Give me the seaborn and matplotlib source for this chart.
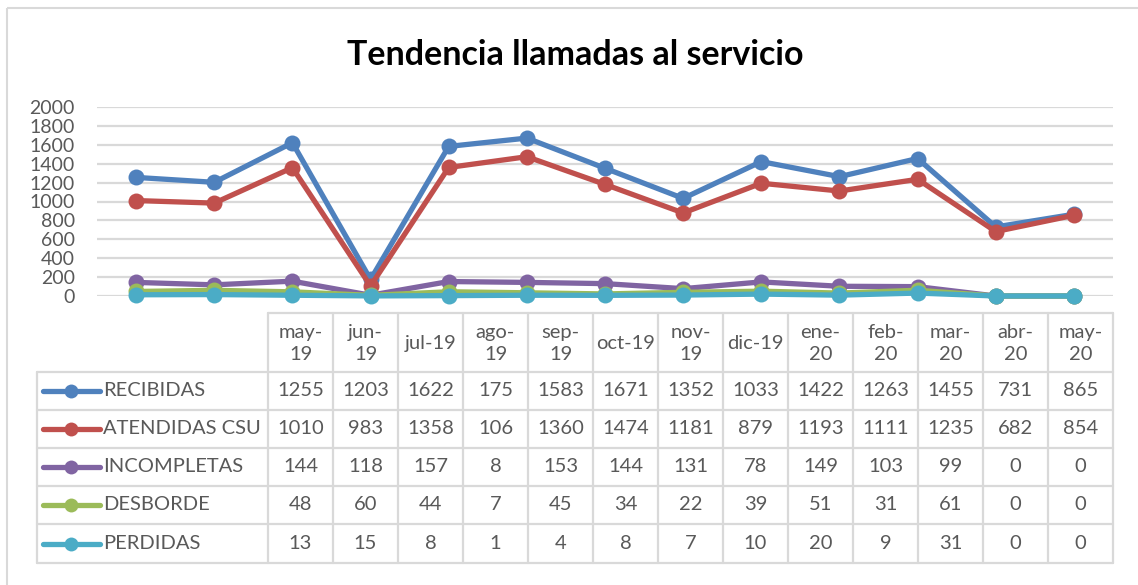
import pandas as pd
import matplotlib.pyplot as plt
import seaborn as sns
from matplotlib.lines import Line2D
from matplotlib.patches import Rectangle

# data
months = ['may-19', 'jun-19', 'jul-19', 'ago-19', 'sep-19', 'oct-19', 'nov-19',
          'dic-19', 'ene-20', 'feb-20', 'mar-20', 'abr-20', 'may-20']
header_labels = ['may-\n19', 'jun-\n19', 'jul-19', 'ago-\n19', 'sep-\n19', 'oct-19',
                 'nov-\n19', 'dic-19', 'ene-\n20', 'feb-\n20', 'mar-\n20', 'abr-\n20', 'may-\n20']
series_names = ['RECIBIDAS', 'ATENDIDAS CSU', 'INCOMPLETAS', 'DESBORDE', 'PERDIDAS']
recibidas = [1255, 1203, 1622, 175, 1583, 1671, 1352, 1033, 1422, 1263, 1455, 731, 865]
atendidas = [1010, 983, 1358, 106, 1360, 1474, 1181, 879, 1193, 1111, 1235, 682, 854]
incompletas = [144, 118, 157, 8, 153, 144, 131, 78, 149, 103, 99, 0, 0]
desborde = [48, 60, 44, 7, 45, 34, 22, 39, 51, 31, 61, 0, 0]
perdidas = [13, 15, 8, 1, 4, 8, 7, 10, 20, 9, 31, 0, 0]
colors = ['#4F81BD', '#C0504D', '#8064A2', '#9BBB59', '#4BACC6']

all_values = [recibidas, atendidas, incompletas, desborde, perdidas]

sns.set_theme(style='white')
plt.rcParams['font.family'] = ['Lato', 'DejaVu Sans']

# long format for seaborn
rows = []
for name, vals in zip(series_names, all_values):
    for i, v in enumerate(vals):
        rows.append({'pos': i, 'mes': months[i], 'serie': name, 'valor': v})
df = pd.DataFrame(rows)

W, H = 1138, 585
fig = plt.figure(figsize=(W / 100, H / 100), dpi=100)
fig.patch.set_facecolor('white')

# plot area in pixel terms
left, right, top, bottom = 97, 1113, 107, 296
ax = fig.add_axes([left / W, 1 - bottom / H, (right - left) / W, (bottom - top) / H])

sns.lineplot(data=df, x='pos', y='valor', hue='serie', hue_order=series_names,
             palette=colors, marker='o', markersize=11.5, markeredgewidth=0,
             linewidth=3.8, sort=False, legend=False, clip_on=False, ax=ax)

ax.set_xlim(-0.5, len(months) - 0.5)
ax.set_ylim(0, 2000)
ax.set_yticks(range(0, 2001, 200))
ax.set_xticks([])
ax.set_xlabel('')
ax.set_ylabel('')
ax.grid(axis='y', color='#d9d9d9', linewidth=1.6)
ax.set_axisbelow(True)
for s in ax.spines.values():
    s.set_visible(False)
ax.tick_params(axis='y', length=0, pad=16, labelsize=14, labelcolor='#595959')

# title
fig.text(575 / W, 1 - 55 / H, 'Tendencia llamadas al servicio', ha='center', va='center',
         fontsize=24.5, fontweight='bold', color='black')

# data table drawn in pixel coords
tab = fig.add_axes([0, 0, 1, 1])
tab.set_xlim(0, W)
tab.set_ylim(H, 0)
tab.axis('off')
tab.patch.set_alpha(0)

line_col = '#d9d9d9'
txt_col = '#595959'
col0, colw = 268, 65
label_left = 37
head_top = 313
row_edges = [372, 410, 448, 486, 524, 563]
tab_right = col0 + colw * len(months)

# chart border
tab.add_patch(Rectangle((7, 8), W, H, fill=False, edgecolor=line_col, linewidth=1.5))

tab.plot([col0, tab_right], [head_top, head_top], color=line_col, lw=1.6)
for y in row_edges:
    tab.plot([label_left, tab_right], [y, y], color=line_col, lw=1.6)
tab.plot([label_left, label_left], [row_edges[0], row_edges[-1]], color=line_col, lw=1.6)
for i in range(len(months) + 1):
    x = col0 + i * colw
    tab.plot([x, x], [head_top, row_edges[-1]], color=line_col, lw=1.6)

for i, lab in enumerate(header_labels):
    tab.text(col0 + (i + 0.5) * colw, (head_top + row_edges[0]) / 2 + 1, lab,
             ha='center', va='center', fontsize=14.5, color=txt_col, linespacing=1.4)

for r, (name, vals, c) in enumerate(zip(series_names, all_values, colors)):
    yc = (row_edges[r] + row_edges[r + 1]) / 2
    tab.add_line(Line2D([43, 100], [yc, yc], color=c, lw=3.8))
    tab.add_line(Line2D([71.5], [yc], color=c, marker='o', markersize=10, markeredgewidth=0))
    tab.text(103, yc, name, ha='left', va='center', fontsize=14.5, color=txt_col)
    for i, v in enumerate(vals):
        tab.text(col0 + (i + 0.5) * colw, yc, str(v), ha='center', va='center',
                 fontsize=14.5, color=txt_col)

fig.savefig('out.png', dpi=100)
